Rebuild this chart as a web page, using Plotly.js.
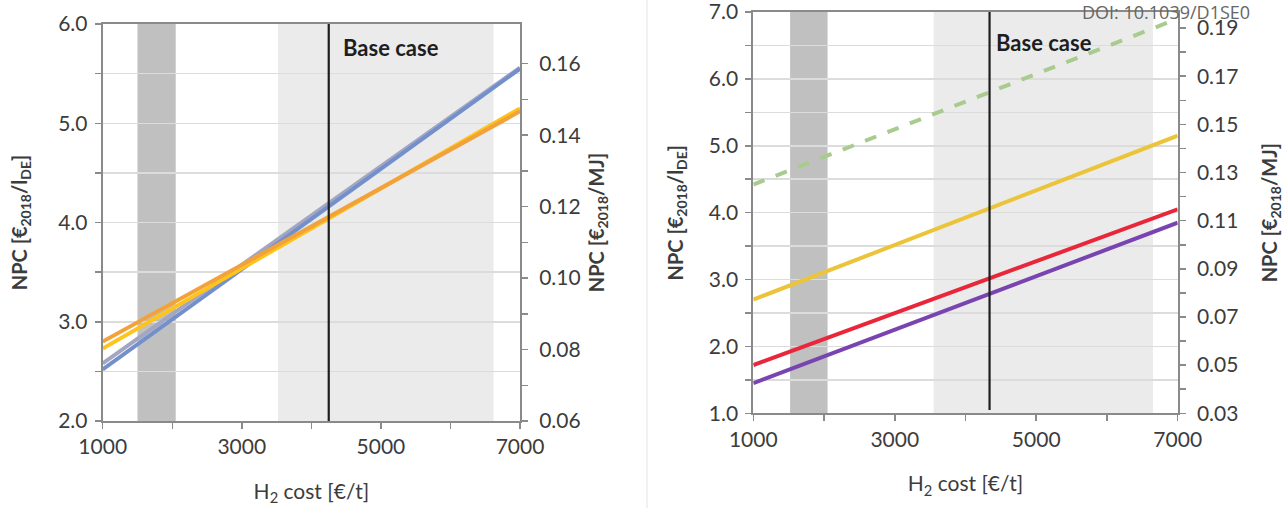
<!DOCTYPE html>
<html>
<head>
<meta charset="utf-8">
<script src="https://cdn.plot.ly/plotly-3.0.1.min.js"></script>
<style>html,body{margin:0;padding:0;background:#fff;}#chart{width:1284px;height:508px;}</style>
</head>
<body>
<div id="chart"></div>
<script>
// ---- data ----
var h2Cost = [1000, 7000];
// left panel (NPC in EUR2018/l_DE)
var leftBlue = [2.52, 5.55];
var leftGrey = [2.58, 5.56];
var leftOrange = [2.80, 5.12];
var leftYellow = [2.73, 5.15];
// right panel
var rightGreen = [4.42, 6.90];
var rightYellow = [2.70, 5.15];
var rightRed = [1.72, 4.05];
var rightPurple = [1.45, 3.85];
// shaded ranges and base case
var leftDarkBand = [1500, 2050];
var leftLightBand = [3520, 6620];
var leftBase = 4250;
var rightDarkBand = [1520, 2050];
var rightLightBand = [3550, 6650];
var rightBase = 4340;
// tick labels
var xTickVals = [1000, 2000, 3000, 4000, 5000, 6000, 7000];
var xTickText = ["1000", "", "3000", "", "5000", "", "7000"];
var leftYVals = [2.0, 2.5, 3.0, 3.5, 4.0, 4.5, 5.0, 5.5, 6.0];
var leftYText = ["2.0", "", "3.0", "", "4.0", "", "5.0", "", "6.0"];
var leftY2Vals = [0.06, 0.07, 0.08, 0.09, 0.10, 0.11, 0.12, 0.13, 0.14, 0.15, 0.16];
var leftY2Text = ["0.06", "", "0.08", "", "0.10", "", "0.12", "", "0.14", "", "0.16"];
var rightYVals = [1.0, 1.5, 2.0, 2.5, 3.0, 3.5, 4.0, 4.5, 5.0, 5.5, 6.0, 6.5, 7.0];
var rightYText = ["1.0", "", "2.0", "", "3.0", "", "4.0", "", "5.0", "", "6.0", "", "7.0"];
var rightY2Vals = [0.03, 0.04, 0.05, 0.06, 0.07, 0.08, 0.09, 0.10, 0.11, 0.12, 0.13, 0.14, 0.15, 0.16, 0.17, 0.18, 0.19];
var rightY2Text = ["0.03", "", "0.05", "", "0.07", "", "0.09", "", "0.11", "", "0.13", "", "0.15", "", "0.17", "", "0.19"];

var FONT = "Lato, 'Open Sans', 'DejaVu Sans', sans-serif";
var TXT = "#3c3c3c";
var AX = "#8a8a8a";

function line(x, y, xa, ya, color, dash) {
  return {x: x, y: y, xaxis: xa, yaxis: ya, type: "scatter", mode: "lines",
          line: {color: color, width: 4, dash: dash || "solid"}, hoverinfo: "skip"};
}

var traces = [
  line(h2Cost, leftGrey, "x", "y", "#a3a6c0"),
  line(h2Cost, leftBlue, "x", "y", "#7390cc"),
  line(h2Cost, leftYellow, "x", "y", "#ffc41a"),
  line(h2Cost, leftOrange, "x", "y", "#f2a23a"),
  line(h2Cost, rightGreen, "x2", "y3", "#a9cc8e", "dash"),
  line(h2Cost, rightYellow, "x2", "y3", "#ecc43a"),
  line(h2Cost, rightRed, "x2", "y3", "#e8283a"),
  line(h2Cost, rightPurple, "x2", "y3", "#7a44b0"),
  // invisible traces so the secondary axes are drawn
  {x: h2Cost, y: [0.06, 0.06], xaxis: "x", yaxis: "y2", mode: "lines", line: {width: 0}, hoverinfo: "skip"},
  {x: h2Cost, y: [0.03, 0.03], xaxis: "x2", yaxis: "y4", mode: "lines", line: {width: 0}, hoverinfo: "skip"}
];

function band(xref, yref, r, color) {
  return {type: "rect", xref: xref, yref: yref + " domain", x0: r[0], x1: r[1], y0: 0, y1: 1,
          fillcolor: color, line: {width: 0}, layer: "below"};
}
function vline(xref, yref, xv, y0) {
  return {type: "line", xref: xref, yref: yref + " domain", x0: xv, x1: xv, y0: y0, y1: 1,
          line: {color: "#1e1e1e", width: 2.2}, layer: "above"};
}

var shapes = [
  band("x", "y", leftLightBand, "#ebebeb"),
  band("x", "y", leftDarkBand, "#c0c0c0"),
  vline("x", "y", leftBase, 0),
  band("x2", "y3", rightLightBand, "#ebebeb"),
  band("x2", "y3", rightDarkBand, "#c0c0c0"),
  vline("x2", "y3", rightBase, 0.008),
  {type: "line", xref: "paper", yref: "paper", x0: 647 / 1284, x1: 647 / 1284, y0: 0, y1: 1,
   line: {color: "#ececec", width: 1.5}}
];

function xAxis(domain, anchor) {
  return {domain: domain, anchor: anchor, range: [1000, 7000], tickvals: xTickVals, ticktext: xTickText,
          ticks: "outside", ticklen: 6, tickcolor: AX, tickwidth: 1.5, showline: true, linecolor: AX,
          linewidth: 2, mirror: true, showgrid: false, zeroline: false, ticklabeloverflow: "allow",
          tickfont: {family: FONT, size: 21, color: TXT},
          title: {text: "H<sub>2</sub> cost [€/t]", font: {family: FONT, size: 21, color: TXT}, standoff: 27}};
}
function yAxis(domain, anchor, range, vals, text, ttl, so) {
  return {domain: domain, anchor: anchor, range: range, tickvals: vals, ticktext: text,
          ticks: "outside", ticklen: 6, tickcolor: AX, tickwidth: 1.5, showline: true, linecolor: AX,
          linewidth: 2, showgrid: true, gridcolor: "#dcdcdc", gridwidth: 1.5, zeroline: false,
          tickfont: {family: FONT, size: 21, color: TXT}, ticklabelstandoff: 3, ticklabeloverflow: "allow",
          title: {text: ttl, font: {family: FONT, size: 20, color: TXT}, standoff: so}};
}
function y2Axis(overlay, anchor, range, vals, text, ttl, so) {
  return {overlaying: overlay, anchor: anchor, side: "right", range: range, tickvals: vals, ticktext: text,
          ticks: "outside", ticklen: 6, tickcolor: AX, tickwidth: 1.5, showline: true, linecolor: AX,
          linewidth: 2, showgrid: false, zeroline: false, ticklabelstandoff: 7, ticklabeloverflow: "allow",
          tickfont: {family: FONT, size: 21, color: TXT},
          title: {text: ttl, font: {family: FONT, size: 20, color: TXT}, standoff: so}};
}

var yTitleL = "<b>NPC [€<sub>2018</sub>/l<sub>DE</sub>]</b>";
var yTitleR = "<b>NPC [€<sub>2018</sub>/MJ]</b>";

var layout = {
  width: 1284, height: 508, margin: {l: 0, r: 0, t: 0, b: 0},
  paper_bgcolor: "#ffffff", plot_bgcolor: "rgba(0,0,0,0)", showlegend: false,
  xaxis: xAxis([102.7 / 1284, 520 / 1284], "y"),
  yaxis: yAxis([(508 - 421) / 508, (508 - 24) / 508], "x", [2.0, 6.0], leftYVals, leftYText, yTitleL, 25),
  yaxis2: y2Axis("y", "x", [0.06, 0.06 + 4 / 36], leftY2Vals, leftY2Text, yTitleR, 10),
  xaxis2: xAxis([753.3 / 1284, 1177.7 / 1284], "y3"),
  yaxis3: yAxis([(508 - 413.3) / 508, (508 - 12) / 508], "x2", [1.0, 7.0], rightYVals, rightYText, yTitleL, 20),
  yaxis4: y2Axis("y3", "x2", [0.03, 0.03 + 6 / 36], rightY2Vals, rightY2Text, yTitleR, 30),
  shapes: shapes,
  annotations: [
    {xref: "x", yref: "y domain", x: leftBase, y: 0.94, xanchor: "left", yanchor: "middle", xshift: 12,
     text: "<b>Base case</b>", showarrow: false, font: {family: FONT, size: 22, color: "#1e1e1e"}},
    {xref: "x2", yref: "y3 domain", x: rightBase, y: 0.925, xanchor: "left", yanchor: "middle", xshift: 4,
     text: "<b>Base case</b>", showarrow: false, font: {family: FONT, size: 22, color: "#1e1e1e"}},
    {xref: "paper", yref: "paper", x: 1080 / 1284, y: 1, xanchor: "left", yanchor: "top", yshift: 2,
     text: "DOI: 10.1039/D1SE0", showarrow: false, font: {family: "'Open Sans', sans-serif", size: 18, color: "#666666"}}
  ]
};

Plotly.newPlot("chart", traces, layout, {staticPlot: true, displayModeBar: false});
</script>
</body>
</html>
